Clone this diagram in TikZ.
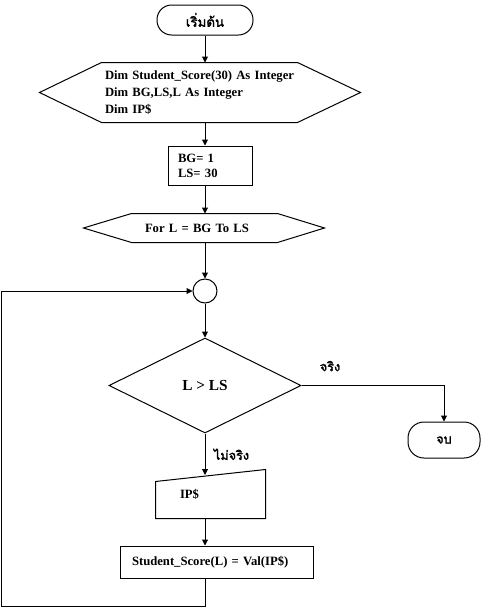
\documentclass[tikz,border=0pt]{standalone}
\usepackage{fontspec}
\setmainfont{Liberation Serif}
\newfontfamily\thaifont[Script=Thai,FakeBold=2]{Loma}
\usetikzlibrary{arrows.meta,positioning,shapes.geometric,calc}

\begin{document}
\begin{tikzpicture}[
  x=0.75pt, y=-0.75pt,
  line width=0.75pt,
  every node/.style={font=\bfseries\fontsize{9.5}{12.75}\selectfont},
  term/.style={rectangle, rounded corners=11pt, draw, inner sep=0pt,
               minimum width=72pt, minimum height=22.5pt},
  plain/.style={rectangle, inner ysep=0pt, align=left},
  stepbox/.style={rectangle, draw, inner ysep=0pt, align=left},
  jn/.style={circle, draw, minimum size=18pt, inner sep=0pt},
  cond/.style={diamond, draw, inner sep=0pt, minimum width=144pt, minimum height=71.25pt,
               font=\bfseries\fontsize{11.5}{13}\selectfont},
  lbl/.style={font=\thaifont\fontsize{9.5}{11}\selectfont},
  arr/.style={-{Triangle[length=4.5pt,width=4.5pt]}},
]
\useasboundingbox (0,0) rectangle (482,607);
\coordinate (col) at (205,0);
\coordinate (corner) at (1,606);

% start and declarations
\node[term, font=\thaifont\fontsize{10}{11}\selectfont] (start) at (205,20) {เริ่มต้น};
\node[plain, minimum width=146.25pt, minimum height=44.25pt, text width=141.75pt, inner xsep=2.25pt]
  (dim) at (199.5,92.5) {\mbox{Dim Student\_Score(30) As Integer}\\\mbox{Dim BG,LS,L As Integer}\\Dim IP\$};
\draw (dim.north west) -- (dim.north east) -- ($(dim.east)+(63,0)$) -- (dim.south east)
  -- (dim.south west) -- ($(dim.west)+(-62,0)$) -- cycle;
\node[stepbox, minimum width=63pt, minimum height=29.25pt, text width=48pt, inner xsep=7.5pt,
  font=\bfseries\fontsize{9.5}{11.25}\selectfont] (bg) at (210,165.5) {BG= 1\\LS= 30};

% loop head
\node[plain, minimum width=108.75pt, minimum height=21pt, text width=89.25pt, inner xsep=9.75pt]
  (for) at (204.5,228) {\mbox{For L = BG To LS}};
\draw (for.north west) -- (for.north east) -- ($(for.east)+(47,0)$) -- (for.south east)
  -- (for.south west) -- ($(for.west)+(-48,0)$) -- cycle;
\node[jn] (circ) at (205,291) {};
\node[cond] (dec) at (205,385.5) {L > LS};
\node[term, minimum width=54pt, minimum height=27pt, rounded corners=12pt,
  font=\thaifont\fontsize{9.5}{11}\selectfont] (end) at (444,440) {จบ};

% loop body
\node[plain, minimum width=81.75pt, minimum height=36pt, text width=45.75pt, inner xsep=18pt]
  (mi) at (210.5,494) {IP\$};
\draw (mi.south west) -- (mi.south east) -- (mi.north east) -- ($(mi.north west)+(0,12)$) -- cycle;
\node[stepbox, minimum width=144.75pt, minimum height=24pt, text width=126.75pt, inner xsep=9pt]
  (sc) at (216.5,562) {\mbox{Student\_Score(L) = Val(IP\$)}};

\draw[arr] (start) -- (dim.north -| col);
\draw[arr] (dim.south -| col) -- (bg.north -| col);
\draw[arr] (bg.south -| col) -- (for.north -| col);
\draw[arr] (for.south -| col) -- (circ);
\draw[arr] (circ) -- (dec);
\draw[arr] (dec.east) -| node[lbl, pos=0.1, above=7pt] (yes) {จริง} (end.north);
\draw[arr] (dec.south) -- node[lbl, right=3pt] (no) {ไม่จริง} ($(mi.north -| col)+(0,5.5)$);
\draw[arr] (mi.south -| col) -- (sc.north -| col);
\draw[arr] (sc.south -| col) |- (corner) |- (circ.west);
\end{tikzpicture}
\end{document}
